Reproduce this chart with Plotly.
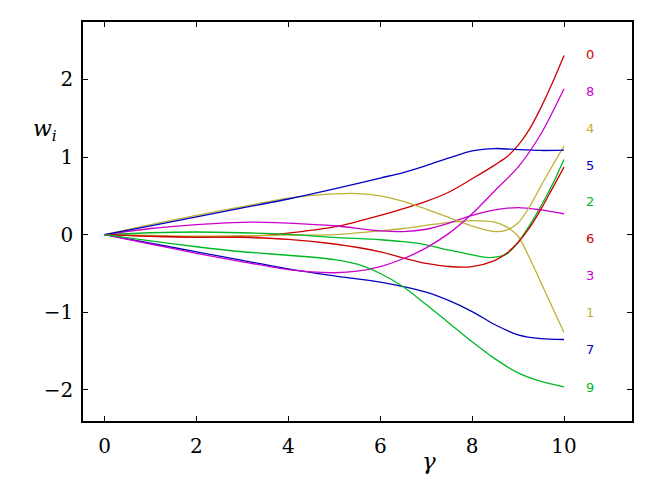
import plotly.graph_objects as go

# ---- data ----
x_0 = [0, 1, 2, 3, 3.5, 4, 5, 6, 7, 7.5, 8, 8.5, 8.75, 9, 9.25, 9.5, 9.75, 10]
y_0 = [0, -0.02, -0.03, -0.02, -0.01, 0.02, 0.1, 0.25, 0.43, 0.55, 0.72, 0.9, 1.0, 1.15, 1.36, 1.64, 1.96, 2.31]

x_8 = [0, 1, 2, 3, 4, 4.5, 5, 5.5, 6, 6.5, 7, 7.5, 8, 8.5, 9, 9.5, 10]
y_8 = [0, -0.12, -0.24, -0.35, -0.45, -0.48, -0.49, -0.47, -0.41, -0.31, -0.17, 0.02, 0.27, 0.57, 0.87, 1.3, 1.88]

x_4 = [0, 1, 2, 3, 4, 5, 5.5, 6, 6.5, 7, 7.5, 8, 8.5, 8.75, 9, 9.25, 9.5, 9.75, 10]
y_4 = [0, 0.13, 0.25, 0.36, 0.47, 0.525, 0.53, 0.5, 0.43, 0.33, 0.22, 0.11, 0.04, 0.06, 0.15, 0.36, 0.63, 0.89, 1.14]

x_5 = [0, 1, 2, 3, 4, 5, 6, 6.5, 7, 7.5, 8, 8.5, 9, 9.5, 10]
y_5 = [0, 0.115, 0.23, 0.345, 0.46, 0.59, 0.73, 0.8, 0.89, 0.99, 1.08, 1.11, 1.095, 1.085, 1.09]

x_2 = [0, 1, 2, 3, 4, 5, 6, 6.5, 7, 7.5, 8, 8.25, 8.5, 8.75, 9, 9.25, 9.5, 9.75, 10]
y_2 = [0, 0.025, 0.035, 0.025, 0.005, -0.035, -0.065, -0.09, -0.13, -0.2, -0.26, -0.29, -0.29, -0.25, -0.1, 0.12, 0.37, 0.65, 0.97]

x_6 = [0, 1, 2, 3, 4, 5, 6, 6.5, 7, 7.5, 8, 8.5, 8.75, 9, 9.25, 9.5, 9.75, 10]
y_6 = [0, -0.02, -0.03, -0.035, -0.06, -0.12, -0.22, -0.3, -0.37, -0.41, -0.41, -0.33, -0.24, -0.1, 0.09, 0.33, 0.6, 0.87]

x_3 = [0, 1, 2, 3, 3.5, 4, 5, 6, 6.5, 7, 7.5, 8, 8.5, 9, 9.5, 10]
y_3 = [0, 0.08, 0.13, 0.16, 0.16, 0.15, 0.115, 0.05, 0.04, 0.07, 0.15, 0.25, 0.32, 0.35, 0.32, 0.27]

x_1 = [0, 1, 2, 3, 4, 5, 6, 6.5, 7, 7.5, 8, 8.5, 8.75, 9, 9.25, 9.5, 9.75, 10]
y_1 = [0, -0.01, -0.02, -0.015, -0.005, 0.0, 0.05, 0.08, 0.12, 0.16, 0.18, 0.16, 0.1, -0.02, -0.3, -0.62, -0.94, -1.26]

x_7 = [0, 1, 2, 3, 4, 5, 6, 7, 7.5, 8, 8.5, 9, 9.5, 10]
y_7 = [0, -0.11, -0.22, -0.33, -0.44, -0.53, -0.61, -0.74, -0.85, -0.99, -1.16, -1.29, -1.34, -1.35]

x_9 = [0, 1, 2, 3, 4, 5, 5.5, 6, 6.5, 7, 7.5, 8, 8.5, 9, 9.5, 10]
y_9 = [0, -0.08, -0.155, -0.22, -0.265, -0.32, -0.38, -0.5, -0.67, -0.9, -1.14, -1.38, -1.6, -1.78, -1.89, -1.96]

label_names = ["0", "8", "4", "5", "2", "6", "3", "1", "7", "9"]
label_y = [2.32, 1.845, 1.37, 0.89, 0.43, -0.05, -0.52, -1.0, -1.48, -1.97]
label_x = 10.57

x_ticks = [0, 2, 4, 6, 8, 10]
y_ticks = [-2, -1, 0, 1, 2]
y_tick_text = ["\u22122", "\u22121", "0", "1", "2"]

RED, MAG, YEL, BLU, GRN = "#cc0000", "#cc00cc", "#bdb236", "#0000c0", "#00b825"
series = {
    "0": (x_0, y_0, RED), "8": (x_8, y_8, MAG), "4": (x_4, y_4, YEL),
    "5": (x_5, y_5, BLU), "2": (x_2, y_2, GRN), "6": (x_6, y_6, RED),
    "3": (x_3, y_3, MAG), "1": (x_1, y_1, YEL), "7": (x_7, y_7, BLU),
    "9": (x_9, y_9, GRN),
}

SERIF = "'DejaVu Serif', serif"
SANS = "'DejaVu Sans', sans-serif"

fig = go.Figure()
for name in ["0", "1", "2", "3", "4", "5", "6", "7", "8", "9"]:
    xs, ys, col = series[name]
    fig.add_trace(go.Scatter(x=xs, y=ys, mode="lines", name=name,
                             line=dict(color=col, width=1.3, shape="spline", smoothing=0.8),
                             showlegend=False, hoverinfo="skip"))

for name, ly in zip(label_names, label_y):
    fig.add_annotation(x=label_x, y=ly, text=name, showarrow=False,
                       xanchor="center", yanchor="middle",
                       font=dict(family=SANS, size=13, color=series[name][2]))

fig.add_annotation(xref="paper", yref="paper", x=-0.095, y=0.77, text="<i>w</i><sub><i>i</i></sub>",
                   showarrow=False, font=dict(family=SERIF, size=22, color="black"))
fig.add_annotation(xref="paper", yref="paper", x=0.63, y=-0.1, yanchor="middle",
                   text="<i>\u03b3</i>", showarrow=False,
                   font=dict(family=SERIF, size=23, color="black"))

axis_common = dict(showgrid=False, zeroline=False, showline=True, linecolor="black", linewidth=1.6,
                   mirror="ticks", ticks="inside", ticklen=5, tickwidth=1.2, tickcolor="black",
                   tickfont=dict(family=SERIF, size=20, color="black"))

fig.update_xaxes(range=[-0.47, 11.48], tickvals=x_ticks, ticktext=[str(v) for v in x_ticks],
                 ticklabelstandoff=6, **axis_common)
fig.update_yaxes(range=[-2.4, 2.74], tickvals=y_ticks, ticktext=y_tick_text,
                 ticklabelstandoff=4, **axis_common)

fig.update_layout(width=662, height=480, margin=dict(l=83, r=30, t=22, b=59),
                  plot_bgcolor="white", paper_bgcolor="white",
                  font=dict(family=SERIF, color="black"))

fig.write_html("out.html")
